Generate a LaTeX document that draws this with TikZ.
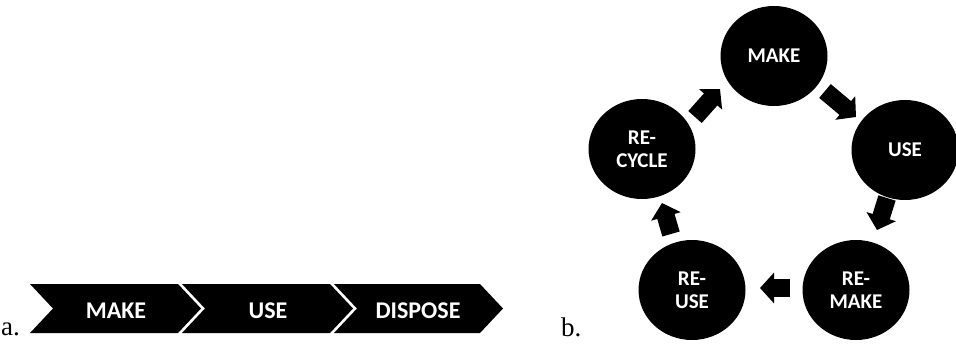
\documentclass[tikz,border=0pt]{standalone}
\usepackage{fontspec}
\setmainfont{Liberation Serif}
\newfontfamily\lblfont{Carlito}
\usetikzlibrary{arrows.meta,shapes.geometric}
\tikzset{
  chev/.style={fill=black},
  chevtext/.style={text=white, font=\lblfont\fontsize{24}{26}\selectfont\bfseries, anchor=base, inner sep=0pt},
  disc/.style={ellipse, fill=black, minimum width=107pt, minimum height=100pt, inner sep=0pt,
    text=white, align=center, font=\lblfont\fontsize{21}{23}\selectfont\bfseries},
  blockarrow/.style={line width=18pt, -{Triangle[width=30pt,length=14pt]}},
  letter/.style={font=\fontsize{27}{29}\selectfont, anchor=base west, inner sep=0pt}
}
\begin{document}
\begin{tikzpicture}[x=1pt,y=-1pt]
\useasboundingbox (0,0) rectangle (956,345);
% a. linear chain
\fill[chev] (30,284) -- (178,284) -- (201,308.5) -- (178,333) -- (30,333) -- (53,308.5) -- cycle;
\fill[chev] (182,284) -- (330,284) -- (353,308.5) -- (330,333) -- (182,333) -- (205,308.5) -- cycle;
\fill[chev] (334,284) -- (480,284) -- (503,308.5) -- (480,333) -- (334,333) -- (357,308.5) -- cycle;
\node[chevtext] (lmake) at (116,318) {MAKE};
\node[chevtext] (luse) at (268,318) {USE};
\node[chevtext] (ldispose) at (418,318) {DISPOSE};
\node[letter] (la) at (1,335) {a.};
\node[letter] (lb) at (561,336) {b.};
% b. circular chain
\node[disc] (mk) at (774,56) {MAKE};
\node[disc] (us) at (905,150) {USE};
\node[disc] (rm) at (856,290) {RE-\\MAKE};
\node[disc] (ru) at (692,290) {RE-\\USE};
\node[disc] (rc) at (642,149) {RE-\\CYCLE};
\coordinate (a1s) at (695,117);
\coordinate (a1e) at (720,89);
\coordinate (a2s) at (825,91);
\coordinate (a2e) at (856,117);
\coordinate (a3s) at (887,198);
\coordinate (a3e) at (877,230);
\coordinate (a4s) at (790,288);
\coordinate (a4e) at (760,288);
\coordinate (a5s) at (671,234);
\coordinate (a5e) at (662,203);
\draw[blockarrow] (a1s) -- (a1e);
\draw[blockarrow] (a2s) -- (a2e);
\draw[blockarrow] (a3s) -- (a3e);
\draw[blockarrow] (a4s) -- (a4e);
\draw[blockarrow] (a5s) -- (a5e);
\end{tikzpicture}
\end{document}
